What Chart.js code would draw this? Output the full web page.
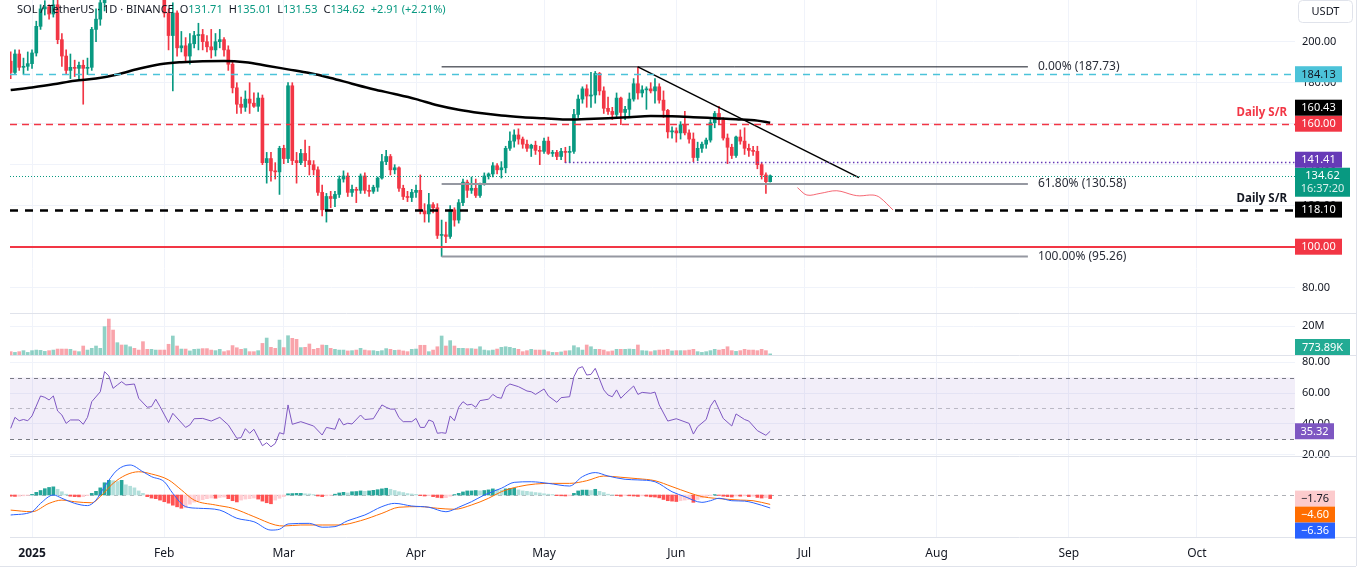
<!DOCTYPE html>
<html><head><meta charset="utf-8">
<script src="https://cdn.jsdelivr.net/npm/chart.js@4.4.1/dist/chart.umd.min.js"></script>
<style>html,body{margin:0;padding:0;background:#fff;overflow:hidden}#wrap{position:relative;width:1365px;height:576px}</style>
</head><body><div id="wrap"><canvas id="c" width="1365" height="576"></canvas></div>
<script>
// ---- data (day index: 0 = 1 Jan 2025, first candle = 27 Dec 2024) ----
const startDay = -5;
const opens = [190.5,185,194,187.5,188,189.3,194.5,207.5,216,217,213.5,218,201,193,186,187.5,187,188.5,187,187.5,206,211,219,257,240,238,257,247,253,255,252,248,237,231,238,240,230,214,203,214,197,198,193,199,203,203.5,200,197.5,196,200,201,196,189,177.5,169.5,168,172,170,168.5,172.5,141,143,137,136.5,148,143,178.5,142,141,145.5,142,140,137.5,126.5,118,124.5,123.5,125.5,133,134.5,126.5,128,127.5,134.5,127.5,127,129,133.5,141.5,144,137.5,138.5,128.5,124.5,124,126.5,127.5,117.5,116,120.5,119,105.5,105.8,105,118,113,121.5,131.5,127.5,128.5,125,130.5,134.5,135.5,139.5,137.5,138.5,148,151.5,154.5,152.5,150,148,149.5,147,146.5,151.5,145.5,146,144,146.5,146,146.5,164.5,172,177,173.5,174,184.5,176,167.5,166,164.5,172.5,165.5,167,172,179.5,175,176.5,177,176,178,171.5,166.5,156,156.5,155.5,159.5,155.5,152.5,143.5,148,150,152,160.5,165,162,153,148.5,144.5,153.5,151.5,148,147,146.5,140,135,131.71];
const highs = [195,196,196,192,195,196,210,218,220,218,221,222,204,196,194,191,190,191,192,207,216,225,262,295,262,260,261,258,264,258,256,249,244,241,244,244,232,216,219,215,205,202,204,205,209,206,203,206,204,206,202,198,190,180,173,176,180,175,175,174,146,146,141,149,149.5,180,180,146,147.5,152,149,142,139,130,126,127,127,134.5,137,136,130,129,135.5,136,130,130,134,145,147,145,140,139,130,127,128,130,135,121,126,121.5,121,113,112,120,119,123,133,132.5,134,133,131,136,136,141,140.5,141.5,149,156,157,157.5,153.5,152,150,151.5,149,153,153.5,147,147,148,148.5,149,167,174,178,179,185,185.5,185,178,173,168,175,173,168.5,175,182,187.73,178.5,178,180,182,179.5,176,167,158.5,158,161,166,157,155.5,151,151,153,162,166,168.5,163,155,150,154,157,158,150,149,149,141,136,135.01];
const lows = [182,184,186,184,186,187,193,206,213,211,212,199,188,184,182,183,182,169.5,184,186,200,208,215,232,229,233,245,239,249,249,247,224,229,224,236,227,212,196,176,193,195,190,189,197,196,196,195,192,193,197,193,186,175,165,165,166,165,168,166,140,131,132,133,125.5,140.5,141,140,131,140,139,135,135,125,115,112,119,119.5,124,131.5,124.5,124.5,121.5,126,126,124.5,126,127,133,140,135,135.5,127,123,122,122,124,116,112,112,116.5,104,95.26,102,104,110,111.5,120,124,126,124,124,130,133,134,135.5,133.5,136,147,148.5,150,148,146.5,144,145,140,145.5,145,144,142.5,142.5,141,141,145.5,163,170,168,168,170,174,165,164.5,162,163,159.5,162,163.5,171,172,173,167,175,170,170,163,153,153,151,152.5,154.5,150.5,141.5,142,146,148,151,158,160,152,140.5,143,143.5,150,145,144,144.5,138,133,126,131.53];
const closes = [185,194,187.5,188,189.3,194.5,207.5,216,217,213.5,218,201,193,186,187.5,187,188.5,187,187.5,206,211,219,257,240,238,257,247,253,255,252,248,237,231,238,240,230,214,203,214,197,198,193,199,203,203.5,200,197.5,196,200,201,196,189,177.5,169.5,168,172,170,168.5,172.5,141,143,137,136.5,148,143,178.5,142,141,145.5,142,140,137.5,126.5,118,124.5,123.5,125.5,133,134.5,126.5,128,127.5,134.5,127.5,127,129,133.5,141.5,144,137.5,138.5,128.5,124.5,124,126.5,127.5,117.5,116,120.5,119,105.5,105.8,105,118,113,121.5,131.5,127.5,128.5,125,130.5,134.5,135.5,139.5,137.5,138.5,148,151.5,154.5,152.5,150,148,149.5,147,146.5,151.5,145.5,146,144,146.5,146,146.5,164.5,172,177,173.5,174,184.5,176,167.5,166,164.5,172.5,165.5,167,172,179.5,175,176.5,177,176,178,171.5,166.5,156,156.5,155.5,159.5,155.5,152.5,143.5,148,150,152,160.5,165,162,153,148.5,144.5,153.5,151.5,148,147,146.5,140,135,131.71,134.62];
const volumes = [2.3,1.8,2.3,3.0,1.8,3.0,3.4,3.2,2.5,3.0,3.4,4.1,4.1,4.1,3.9,2.8,2.3,6.2,3.4,4.6,6.2,4.6,19.5,24.8,17.2,8.5,6.9,6.9,5.7,4.6,3.4,9.2,3.9,3.9,3.4,3.4,3.4,7.4,13.1,6.2,4.1,4.1,2.8,3.9,4.1,4.4,4.4,3.4,3.0,3.9,2.3,3.0,6.5,5.0,3.9,4.4,2.3,2.3,3.0,8.0,11.7,5.3,4.6,10.3,5.1,13.3,11.5,10.8,5.1,5.3,7.6,3.9,4.6,6.9,6.7,4.6,3.9,3.4,3.4,2.8,3.0,3.4,4.6,3.4,3.0,3.0,2.5,3.0,4.4,3.9,3.2,3.4,2.8,2.3,3.9,4.1,6.7,6.7,2.3,3.4,5.7,13.1,6.2,9.9,6.2,4.6,4.6,4.4,4.4,4.1,5.7,3.4,3.0,3.4,4.1,5.3,5.7,5.3,4.6,3.9,2.3,3.0,3.9,3.4,3.4,3.4,2.3,1.8,1.8,2.1,2.8,3.0,6.4,5.1,3.4,6.9,5.7,3.9,3.9,3.4,2.3,2.8,3.9,3.9,3.9,4.1,3.9,6.9,3.0,2.8,2.3,3.0,3.4,3.4,3.9,2.8,3.0,3.0,3.0,3.4,3.9,2.3,1.8,2.3,3.0,3.9,3.4,3.9,5.7,3.0,2.5,3.0,3.9,3.4,3.4,3.0,3.9,3.0,0.77389];
const histValues = [-0.6,-0.7,-0.6,-0.4,-0.2,0.3,1.3,2.2,3.1,3.7,4.0,2.8,1.6,0.4,-0.6,-0.8,-0.9,-0.8,-0.3,0.8,1.8,3.5,6.0,7.2,7.0,6.6,7.2,5.0,4.3,3.5,2.0,0.8,-0.8,-1.5,-1.8,-2.5,-3.3,-4.0,-5.0,-5.8,-6.5,-6.2,-4.5,-3.5,-2.8,-2.3,-1.8,-1.5,-1.6,-1.2,-1.0,-1.8,-2.8,-3.4,-2.5,-2.0,-1.8,-1.5,-2.0,-3.0,-3.8,-4.3,-2.5,-1.6,-0.8,0.6,0.7,0.8,0.8,0.6,0.5,0.2,-0.5,-0.8,-0.4,-0.2,0.4,1.0,1.3,1.0,1.6,1.7,2.0,1.8,2.0,2.3,2.6,3.0,3.3,2.8,2.2,1.6,1.2,0.7,0.5,0.3,-0.3,-0.5,-0.3,-0.8,-1.2,-1.4,-1.3,-0.6,0.2,0.8,1.5,2.0,2.0,2.2,2.0,2.2,2.5,3.0,2.6,2.4,3.0,3.2,3.3,2.5,2.0,1.8,1.5,1.2,1.0,0.6,0.4,0.2,-0.3,-0.4,-0.5,-0.4,0.8,2.0,2.4,2.4,2.2,2.8,1.8,1.2,0.4,0.1,-0.3,-0.6,-0.2,-0.4,-0.5,-0.7,-0.4,-0.6,-0.9,-1.0,-1.4,-2.2,-2.8,-3.0,-3.2,-2.8,-2.5,-2.3,-3.6,-2.2,-1.4,-0.8,-0.3,0.2,-0.2,-0.6,-0.8,-1.0,-0.5,-0.6,-0.4,-0.8,-0.6,-1.2,-1.5,-1.3,-1.76];
const maDays = [-5,0,5,10,15,20,25,30,35,40,45,50,55,60,65,70,75,80,85,90,95,100,105,110,115,120,125,130,135,140,145,150,155,160,165,170,173];
const maValues = [176.4,177.7,179.2,181.0,182.0,184.0,186.8,189.0,190.0,190.5,190.6,190.0,188.3,186.5,184.7,182.3,179.5,176.8,174.5,172.0,169.0,166.8,165.2,164.0,163.2,162.6,162.0,162.3,162.7,163.2,163.7,163.6,163.2,162.7,162.2,161.5,160.43];
const rsiDays = [-5,-4,-3,-2,-1,0,2,3,4,5,6,7,8,9,11,12,13,14,16,17,18,19,20,21,22,24,25,27,28,29,30,32,33,36,37,38,40,42,44,46,48,49,50,51,52,54,55,56,57,58,59,60,61,63,66,68,69,71,72,73,74,75,77,78,80,82,83,84,85,86,87,89,90,91,92,93,94,95,96,97,98,99,100,101,102,103,104,105,107,108,109,110,111,112,114,116,117,118,120,121,123,124,126,127,128,129,130,131,132,134,135,136,137,138,139,141,142,143,145,146,147,149,151,154,155,156,158,159,160,162,164,165,167,168,170,172,173];
const rsiValues = [37.2,44.3,42.1,42.9,42.1,45.2,58.1,57.2,55.5,58.1,48.4,45.8,40.4,42.6,42.6,39.8,44.3,54.4,60.8,73.8,71,63,65.2,67.3,65.2,65.8,56.6,50.8,51.2,56,51.2,40.9,46.9,37.8,39.4,43.4,43.6,41.9,44.3,39.4,30.8,31.2,37,34,36.6,26,27.9,25.3,27.4,34.4,33.5,52.3,39.8,41.5,38.7,32.9,37.8,36.6,43.6,39.4,40.5,40,45.8,42.9,43.4,52.3,50.8,49.6,49.6,44.1,41.5,41.5,43.6,37.8,37.8,42.6,41.5,34,34.4,34,45.2,42.1,50.8,54.4,52.3,52.7,50.8,55.1,56,59.1,57.2,56.6,63.7,65.8,64.1,61.3,60.8,59.1,62.6,58.1,54,57,57.6,70.5,75.9,77,71.6,72,75.9,62,58.7,57.6,62,56.6,59.4,64.5,59.1,60.4,59.8,60.6,52.3,41.9,43.4,40.4,33.5,38.3,42.9,51.5,55.5,43.6,38.7,46.5,42.9,41.9,35.7,32.7,35.32];
const macdDays = [-5,0,2,5,7,10,13,15,17,20,23,26,28,31,33,36,39,44,48,52,56,58,60,65,68,71,74,78,82,85,89,93,97,99,100,103,106,110,113,117,121,126,129,132,135,139,142,146,150,153,157,159,161,164,167,169,173];
const macdValues = [-9.8,-8.2,-4.1,0,-1.6,-4.1,-5.2,-2.5,4.1,12.3,14.7,11.4,9.0,6.5,0.8,-5.7,-6.5,-7.4,-11.4,-13.1,-17.2,-16.8,-14.2,-13.9,-15.8,-15.5,-12.6,-9.8,-5.7,-4.1,-5.4,-6.0,-8.2,-7.0,-6.0,-3.3,0,3.3,6.2,6.5,5.7,4.4,9.0,11.0,9.3,7.7,7.4,6.5,1.6,-0.8,-3.6,-2.8,-1.6,-2.8,-3.0,-3.8,-6.36];
const signalDays = [-5,0,4,7,10,14,16,19,22,25,28,32,35,38,43,47,52,57,59,63,68,72,77,82,86,91,95,99,103,107,110,114,118,122,126,130,134,138,142,146,150,154,157,160,163,166,169,173];
const signalValues = [-7.4,-8.2,-4.1,-2.5,-3.3,-3.8,-0.8,5.7,9.8,11.4,10.3,7.4,2.5,-2.5,-4.9,-6.5,-10.6,-14.7,-15.2,-14.7,-14.7,-14.7,-12.6,-9.0,-6.0,-5.7,-6.5,-7.0,-4.9,-1.6,1.6,4.1,5.4,5.7,5.7,7.0,9.3,8.7,8.0,7.0,4.1,1.1,-0.8,-1.6,-2.1,-2.5,-2.8,-4.60];
const levelValues = [184.13, 160.00, 141.41, 134.62, 118.10, 100.00];
const fibNames = ['0.00%', '61.80%', '100.00%'];
const fibLevels = [187.73, 130.58, 95.26];
const fibDays = [96, 233.4];
const trendDays = [142, 193.8];
const trendPrices = [187.73, 133.7];
const projDays = [179.4, 181.6, 184.7, 188.6, 192.5, 194.0, 197.1, 198.7, 201.8];
const projPrices = [128.8, 125.2, 126.0, 127.3, 125.2, 124.8, 125.2, 124.0, 117.9];
const monthTicks = [0, 31, 59, 90, 120, 151, 181, 212, 243, 273];
const monthLabels = ['2025', 'Feb', 'Mar', 'Apr', 'May', 'Jun', 'Jul', 'Aug', 'Sep', 'Oct'];
const priceTicks = [200, 180, 160, 140, 120, 100, 80];
const volTicks = [20];
const rsiTicks = [80, 60, 40, 20];
const rsiBand = [30, 50, 70];
const srLabel = 'Daily S/R';
const countdown = '16:37:20';

// ---- helpers ----
const FONT = '"Noto Sans", "Liberation Sans", sans-serif';
const UP = '#089981', DOWN = '#f23645';
const days = opens.map((_, i) => startDay + i);
const isUp = i => closes[i] >= opens[i];
const last = closes.length - 1;
const pts = (xs, ys) => xs.map((x, i) => ({x, y: ys[i]}));

const datasets = [
  {type:'line', label:'trend', data: pts(trendDays, trendPrices), yAxisID:'yP', borderColor:'#000', borderWidth:1.5, pointRadius:0, order:0},
  ...fibLevels.map((v, k) => ({type:'line', label:'fib'+k, data: pts(fibDays, [v, v]), yAxisID:'yP',
      borderColor: k === 0 ? '#131722' : '#9598a1', borderWidth: k === 0 ? 1 : 2, pointRadius:0, order:0})),
  {type:'line', label:'proj', data: pts(projDays, projPrices), yAxisID:'yP', borderColor:'rgba(242,54,69,0.75)', borderWidth:1, pointRadius:0, tension:0.35, order:0},
  {type:'line', label:'MA200', data: pts(maDays, maValues), yAxisID:'yP', borderColor:'#000', borderWidth:2.5, pointRadius:0, cubicInterpolationMode:'monotone', order:0},
  {type:'bar', label:'body', data: days.map((d, i) => ({x:d, y:[opens[i], closes[i]]})), yAxisID:'yP',
      backgroundColor: c => isUp(c.dataIndex) ? UP : DOWN, barThickness:3, minBarLength:1, grouped:false, order:1},
  {type:'bar', label:'wick', data: days.map((d, i) => ({x:d, y:[lows[i], highs[i]]})), yAxisID:'yP',
      backgroundColor: c => isUp(c.dataIndex) ? UP : DOWN, barThickness:1, grouped:false, order:2},
  {type:'bar', label:'vol', data: days.map((d, i) => ({x:d, y:volumes[i]})), yAxisID:'yV',
      backgroundColor: c => isUp(c.dataIndex) ? 'rgba(8,153,129,0.45)' : 'rgba(242,54,69,0.45)', barThickness:3, grouped:false, order:1},
  {type:'line', label:'rsi', data: pts(rsiDays, rsiValues), yAxisID:'yR', borderColor:'#7e57c2', borderWidth:1, pointRadius:0, order:0},
  {type:'line', label:'macd', data: pts(macdDays, macdValues), yAxisID:'yM', borderColor:'#2962ff', borderWidth:1, pointRadius:0, cubicInterpolationMode:'monotone', order:0},
  {type:'line', label:'signal', data: pts(signalDays, signalValues), yAxisID:'yM', borderColor:'#ff6d00', borderWidth:1, pointRadius:0, cubicInterpolationMode:'monotone', order:0},
  {type:'bar', label:'hist', data: days.map((d, i) => ({x:d, y:histValues[i]})), yAxisID:'yM',
      backgroundColor: c => { const i = c.dataIndex, v = histValues[i], p = i > 0 ? histValues[i-1] : 0;
        return v >= 0 ? (v >= p ? '#26a69a' : '#b2dfdb') : (v < p ? '#ff5252' : '#ffcdd2'); },
      barThickness:3, grouped:false, order:1},
];

function yAxis(weight, stackWeight, min, max, ticks, fmt, showGrid) {
  return {type:'linear', position:'right', stack:'panes', stackWeight, weight, min, max, beginAtZero:false,
    afterBuildTicks: s => { s.ticks = ticks.map(v => ({value:v})); },
    afterFit: s => { s.width = 70; s.paddingTop = 0; s.paddingBottom = 0; },
    ticks:{display: ticks.length > 0, padding:7, color:'#131722', font:{family:FONT, size:11}, callback: fmt},
    grid:{display: showGrid, color:'#f0f3fa', drawTicks:false}, border:{display:false}};
}

const fmt2 = v => v.toFixed(2);

function drawTag(ctx, left, top, w, h, bg, fg, text, text2, fg2) {
  ctx.fillStyle = bg; ctx.fillRect(left, top, w, h);
  ctx.fillStyle = fg; ctx.font = '11px ' + FONT; ctx.textAlign = 'center'; ctx.textBaseline = 'middle';
  ctx.fillText(text, left + w / 2, top + 8.5);
  if (text2) { ctx.fillStyle = fg2 || fg; ctx.fillText(text2, left + w / 2, top + 21.5); }
}

function placeTags(list) {
  const placed = [];
  for (const t of list) {
    let top = t.y - 8, guard = 0, moved = true;
    while (moved && guard++ < 30) {
      moved = false;
      for (const p of placed) {
        if (top < p.top + p.h && top + t.h > p.top) {
          top = t.val > p.val ? p.top - t.h : p.top + p.h; moved = true;
        }
      }
    }
    t.top = top; placed.push(t);
  }
  return placed;
}

const overlay = {
  id:'overlay',
  beforeDatasetsDraw(chart) {
    const {ctx, chartArea:a, scales:s} = chart;
    ctx.save();
    const y70 = s.yR.getPixelForValue(rsiBand[2]), y30 = s.yR.getPixelForValue(rsiBand[0]);
    ctx.fillStyle = 'rgba(126,87,194,0.1)';
    ctx.fillRect(a.left, y70, a.right - a.left, y30 - y70);
    ctx.lineWidth = 1; ctx.setLineDash([4, 4]);
    rsiBand.forEach((v, k) => {
      const y = Math.round(s.yR.getPixelForValue(v)) + 0.5;
      ctx.strokeStyle = k === 1 ? 'rgba(120,123,134,0.45)' : 'rgba(80,83,94,0.75)';
      ctx.beginPath(); ctx.moveTo(a.left, y); ctx.lineTo(a.right, y); ctx.stroke();
    });
    const y0 = Math.round(s.yM.getPixelForValue(0)) + 0.5;
    ctx.strokeStyle = 'rgba(120,123,134,0.6)';
    ctx.beginPath(); ctx.moveTo(a.left, y0); ctx.lineTo(a.right, y0); ctx.stroke();
    ctx.restore();
  },
  afterDatasetsDraw(chart) {
    const {ctx, chartArea:a, scales:s} = chart;
    const styles = [
      {c:'#4cc3d9', w:1.5, d:[7,6]},
      {c:'#f23645', w:1.5, d:[7,5]},
      {c:'#673ab7', w:1.5, d:[1.5,2.5], from:124.9},
      {c:'#089981', w:1, d:[1,2]},
      {c:'#000000', w:2.5, d:[8,7]},
      {c:'#f23645', w:2, d:[]},
    ];
    ctx.save();
    levelValues.forEach((v, k) => {
      const st = styles[k];
      const y = Math.round(s.yP.getPixelForValue(v)) + (st.w % 2 ? 0.5 : 0);
      const x0 = st.from != null ? s.x.getPixelForValue(st.from) : a.left;
      ctx.strokeStyle = st.c; ctx.lineWidth = st.w; ctx.setLineDash(st.d);
      ctx.beginPath(); ctx.moveTo(x0, y); ctx.lineTo(a.right, y); ctx.stroke();
    });
    ctx.restore();
  },
  afterDraw(chart) {
    const {ctx, chartArea:a, scales:s} = chart;
    ctx.save();
    ctx.setLineDash([]);
    // pane separators and frame
    ctx.strokeStyle = '#e0e3eb'; ctx.lineWidth = 1;
    [s.yP.bottom, s.yV.bottom, s.yR.bottom, s.yM.bottom].forEach(yb => {
      const y = Math.round(yb) + 0.5;
      ctx.beginPath(); ctx.moveTo(a.left, y); ctx.lineTo(1356, y); ctx.stroke();
    });
    ctx.beginPath(); ctx.moveTo(1356.5, 0); ctx.lineTo(1356.5, 566); ctx.stroke();
    ctx.beginPath(); ctx.moveTo(0, 566.5); ctx.lineTo(1356, 566.5); ctx.stroke();

    // header
    ctx.textBaseline = 'middle'; ctx.textAlign = 'left';
    ctx.font = '11px ' + FONT;
    const chg = closes[last] - opens[last];
    const pct = chg / opens[last] * 100;
    const segs = [
      ['SOL / TetherUS · 1D · BINANCE', '#131722', 6],
      ['O', '#131722', 0], [opens[last].toFixed(2), UP, 6],
      ['H', '#131722', 0], [highs[last].toFixed(2), UP, 6],
      ['L', '#131722', 0], [lows[last].toFixed(2), UP, 6],
      ['C', '#131722', 0], [closes[last].toFixed(2), UP, 6],
      [(chg >= 0 ? '+' : '') + chg.toFixed(2) + ' (' + (pct >= 0 ? '+' : '') + pct.toFixed(2) + '%)', UP, 0],
    ];
    let hx = 17;
    segs.forEach(([t, c, gap]) => { ctx.fillStyle = c; ctx.fillText(t, hx, 10); hx += ctx.measureText(t).width + gap; });

    // fib labels
    ctx.font = '12px ' + FONT; ctx.fillStyle = '#2a2e39';
    const fx = s.x.getPixelForValue(fibDays[1]) + 10;
    fibLevels.forEach((v, k) => ctx.fillText(fibNames[k] + ' (' + v.toFixed(2) + ')', fx, s.yP.getPixelForValue(v)));

    // Daily S/R labels
    ctx.font = 'bold 11.5px ' + FONT; ctx.textAlign = 'right';
    ctx.fillStyle = '#f23645'; ctx.fillText(srLabel, a.right - 8, s.yP.getPixelForValue(levelValues[1]) - 11);
    ctx.fillStyle = '#131722'; ctx.fillText(srLabel, a.right - 8, s.yP.getPixelForValue(levelValues[4]) - 11);

    // USDT box
    ctx.strokeStyle = '#e0e3eb'; ctx.lineWidth = 1; ctx.fillStyle = '#fff';
    ctx.beginPath(); ctx.roundRect(1298.5, 0.5, 54, 22, 4); ctx.fill(); ctx.stroke();
    ctx.fillStyle = '#131722'; ctx.font = '11px ' + FONT; ctx.textAlign = 'center';
    ctx.fillText('USDT', 1325.5, 12);

    // price tags
    const L = a.right;
    const P = v => s.yP.getPixelForValue(v);
    const mainTags = placeTags([
      {val: closes[last], y: P(closes[last]), h: 29, w: 55, bg: UP, fg: '#fff', text: closes[last].toFixed(2), text2: countdown, fg2: 'rgba(255,255,255,0.85)'},
      {val: levelValues[0], y: P(levelValues[0]), h: 16, w: 47, bg: '#4cc3d9', fg: '#131722', text: fmt2(levelValues[0])},
      {val: levelValues[1], y: P(levelValues[1]), h: 16, w: 47, bg: '#f23645', fg: '#fff', text: fmt2(levelValues[1])},
      {val: levelValues[4], y: P(levelValues[4]), h: 16, w: 47, bg: '#000', fg: '#fff', text: fmt2(levelValues[4])},
      {val: levelValues[5], y: P(levelValues[5]), h: 16, w: 47, bg: '#f23645', fg: '#fff', text: fmt2(levelValues[5])},
      {val: levelValues[2], y: P(levelValues[2]), h: 16, w: 47, bg: '#673ab7', fg: '#fff', text: fmt2(levelValues[2])},
      {val: maValues[maValues.length-1], y: P(maValues[maValues.length-1]), h: 16, w: 47, bg: '#000', fg: '#fff', text: fmt2(maValues[maValues.length-1])},
    ]);
    mainTags.forEach(t => drawTag(ctx, L, t.top, t.w, t.h, t.bg, t.fg, t.text, t.text2, t.fg2));
    // volume tag
    const vLast = volumes[last];
    drawTag(ctx, L, s.yV.getPixelForValue(0) - 16, 55, 16, '#22ab94', '#fff', (vLast * 1000).toFixed(2) + 'K');
    // rsi tag
    const rLast = rsiValues[rsiValues.length-1];
    drawTag(ctx, L, s.yR.getPixelForValue(rLast) - 8, 39, 16, '#7e57c2', '#fff', fmt2(rLast));
    // macd tags
    const neg = v => (v < 0 ? '\u2212' : '') + Math.abs(v).toFixed(2);
    const hL = histValues[last], sL = signalValues[signalValues.length-1], mL = macdValues[macdValues.length-1];
    const M = v => s.yM.getPixelForValue(v);
    placeTags([
      {val: hL, y: M(hL), h: 16, w: 40, bg: '#fccbcd', fg: '#131722', text: neg(hL)},
      {val: sL, y: M(sL), h: 16, w: 40, bg: '#ff6d00', fg: '#fff', text: neg(sL)},
      {val: mL, y: M(mL), h: 16, w: 40, bg: '#2962ff', fg: '#fff', text: neg(mL)},
    ]).forEach(t => drawTag(ctx, L, t.top, t.w, t.h, t.bg, t.fg, t.text));
    ctx.restore();
  }
};

new Chart(document.getElementById('c'), {
  type:'bar',
  data:{datasets},
  options:{
    responsive:false, animation:false, devicePixelRatio:1,
    layout:{padding:{left:10, right:0, top:0, bottom:0}, autoPadding:false},
    plugins:{legend:{display:false}, tooltip:{enabled:false}},
    scales:{
      x:{type:'linear', min:-5.16, max:296, offset:false, position:'bottom',
        afterBuildTicks: s => { s.ticks = monthTicks.map(v => ({value:v})); },
        afterFit: s => { s.height = 39; s.paddingLeft = 0; s.paddingRight = 0; },
        ticks:{padding:9, autoSkip:false, maxRotation:0, color:'#131722',
          font: c => ({family:FONT, size:12, weight: (c.tick && c.tick.value === 0) ? 'bold' : 'normal'}),
          callback: v => { const k = monthTicks.indexOf(v); return k >= 0 ? monthLabels[k] : ''; }},
        grid:{color:'#f0f3fa', drawTicks:false, offset:false}, border:{display:false}},
      yP: yAxis(1, 313, 67.66, 220.34, priceTicks, fmt2, true),
      yV: yAxis(2, 42, 0, 28.97, volTicks, v => v + 'M', true),
      yR: yAxis(3, 101, 19.35, 84.52, rsiTicks, fmt2, true),
      yM: yAxis(4, 81, -20.59, 19.12, [], fmt2, false),
    }
  },
  plugins:[overlay]
});
</script></body></html>
